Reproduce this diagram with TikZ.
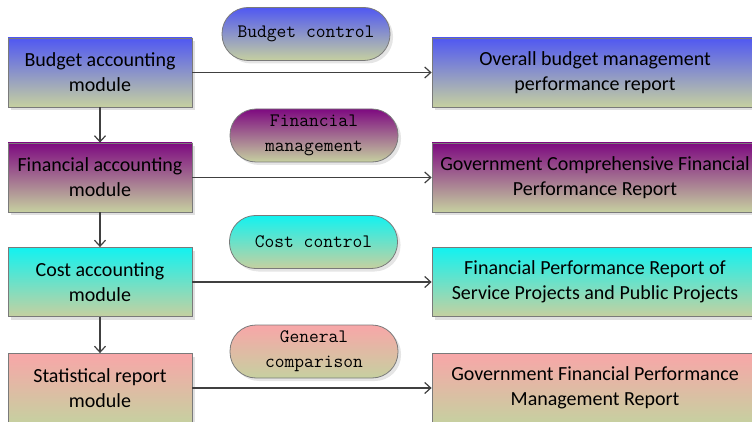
\documentclass[tikz,border=0pt]{standalone}
\usepackage{fontspec}
\setmainfont{Carlito}
\usetikzlibrary{shadows,arrows.meta}

% gradient pairs: top colour fades into a common olive beige
\definecolor{bgbot}{HTML}{C6D0A0}
\definecolor{cblue}{HTML}{5058F2}
\definecolor{cpurple}{HTML}{7E0A80}
\definecolor{ccyan}{HTML}{12F2F0}
\definecolor{cpink}{HTML}{F8A6A8}
\definecolor{edge}{HTML}{7A7A7A}
\definecolor{link}{HTML}{404040}

\tikzset{
  box/.style={draw=edge, line width=0.8pt, minimum width=184pt, minimum height=69pt,
    align=center, inner sep=2pt, font=\fontsize{20}{25}\selectfont,
    drop shadow={shadow xshift=3pt, shadow yshift=-3pt, fill=black, opacity=0.12}},
  wide/.style={box, minimum width=326pt},
  pill/.style={draw=edge, line width=0.8pt, rounded corners=26pt, minimum width=168pt,
    minimum height=53pt, align=center, inner sep=2pt,
    font=\ttfamily\fontsize{19}{25}\selectfont,
    drop shadow={shadow xshift=3pt, shadow yshift=-3pt, fill=black, opacity=0.10}},
  shade/.style={top color=#1, bottom color=bgbot},
  flow/.style={draw=link, line width=1.2pt, -{Straight Barb[length=6pt,width=11pt]}},
}

\begin{document}
\begin{tikzpicture}[x=1pt,y=-1pt]
\useasboundingbox (0,0) rectangle (752,422);
\clip (0,0) rectangle (752,422);

% processing modules
\node[box, shade=cblue]   (bud)  at (100,72.5)  {Budget accounting\\module};
\node[box, shade=cpurple] (fin)  at (100,177.5) {Financial accounting\\module};
\node[box, shade=ccyan]   (cost) at (100,282)   {Cost accounting\\module};
\node[box, shade=cpink]   (stat) at (100,388)   {Statistical report\\module};

% output reports
\node[wide, shade=cblue]   (r1) at (595,72.5)  {Overall budget management\\performance report};
\node[wide, shade=cpurple] (r2) at (595,177.5) {Government Comprehensive Financial\\Performance Report};
\node[wide, shade=ccyan]   (r3) at (595,282)   {Financial Performance Report of\\Service Projects and Public Projects};
\node[wide, shade=cpink]   (r4) at (595,388)   {Government Financial Performance\\Management Report};

% function labels
\node[pill, shade=cblue]   (p1) at (306,34)    {Budget control};
\node[pill, shade=cpurple] (p2) at (314,135.5) {Financial\\management};
\node[pill, shade=ccyan]   (p3) at (313.5,242) {Cost control};
\node[pill, shade=cpink]   (p4) at (314,351.5) {General\\comparison};

% vertical chain
\draw[flow] (bud)  -- (fin);
\draw[flow] (fin)  -- (cost);
\draw[flow] (cost) -- (stat);

% module to report
\draw[flow] (bud)  -- (r1);
\draw[flow] (fin)  -- (r2);
\draw[flow] (cost) -- (r3);
\draw[flow] (stat) -- (r4);
\end{tikzpicture}
\end{document}
